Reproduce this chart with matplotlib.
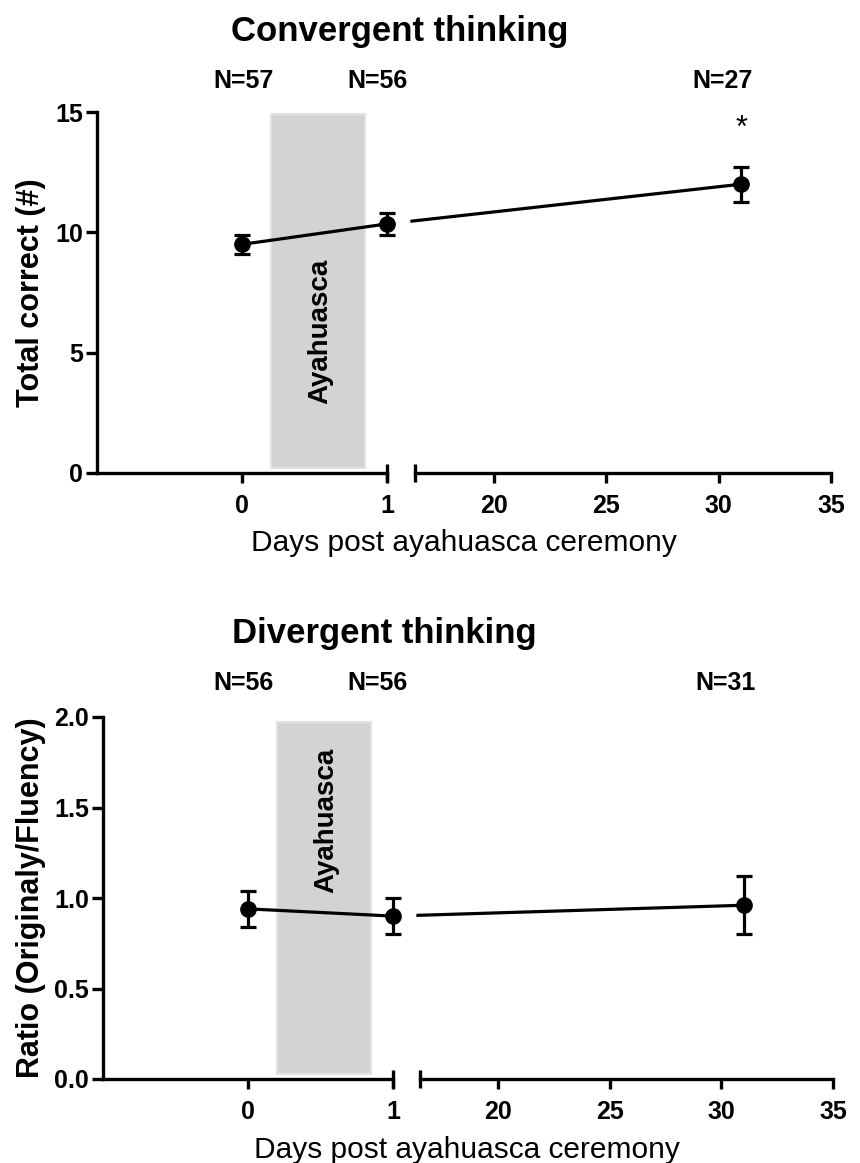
import matplotlib
matplotlib.use('Agg')
import matplotlib.pyplot as plt
import numpy as np

plt.rcParams['font.family'] = ['Liberation Sans', 'DejaVu Sans']

days = [0, 1, 31]

conv_mean = [9.5, 10.35, 12.0]
conv_err = [0.4, 0.45, 0.73]
conv_n = [57, 56, 27]

div_mean = [0.94, 0.90, 0.96]
div_err = [0.10, 0.10, 0.16]
div_n = [56, 56, 31]

left_ticks = [0, 1]
right_ticks = [20, 25, 30, 35]

W, H = 860, 1163


def px_box(x0, x1, y_top, y_bot):
    return [x0 / W, 1 - y_bot / H, (x1 - x0) / W, (y_bot - y_top) / H]


def style_axis(ax, show_y):
    for s in ['top', 'right']:
        ax.spines[s].set_visible(False)
    ax.spines['bottom'].set_linewidth(2.4)
    ax.spines['left'].set_linewidth(2.4)
    ax.spines['left'].set_visible(show_y)
    ax.tick_params(axis='x', length=7, width=2.4, pad=8, labelsize=18)
    ax.tick_params(axis='y', length=8, width=2.4, pad=2, labelsize=18)
    for lab in ax.get_xticklabels() + ax.get_yticklabels():
        lab.set_fontweight('bold')
    if not show_y:
        ax.tick_params(axis='y', left=False, labelleft=False)


def draw_panel(fig, box_l, box_r, ylim, yticks, ytick_labels, means, errs, ns,
               title, title_xy, ylabel, shade_y, ayah_y, n_y, n_offsets, star=None):
    ax_l = fig.add_axes(box_l)
    ax_r = fig.add_axes(box_r)
    ax_l.set_xlim(-1, 1)
    ax_r.set_xlim(16.5, 35)
    for ax in (ax_l, ax_r):
        ax.set_ylim(*ylim)
        ax.set_facecolor('none')
    ax_l.set_xticks(left_ticks)
    ax_r.set_xticks(right_ticks)
    ax_l.set_yticks(yticks)
    ax_l.set_yticklabels(ytick_labels)
    style_axis(ax_l, True)
    style_axis(ax_r, False)

    # ayahuasca shading
    ax_l.fill_between([0.2, 0.85], shade_y[0], shade_y[1], color='#d3d3d3',
                      edgecolor='#e2e2e2', linewidth=1.5, zorder=0)
    ax_l.text(0.54, ayah_y, 'Ayahuasca', rotation=90, ha='center', va='center',
              fontsize=20, fontweight='bold')

    d = np.array(days)
    m = np.array(means)
    e = np.array(errs)
    left = d <= 1
    right = d > 1
    kw = dict(fmt='o', color='black', markersize=11, elinewidth=2.3,
              capsize=6, capthick=2.3, clip_on=False, zorder=3)
    ax_l.errorbar(d[left], m[left], yerr=e[left], **kw)
    ax_r.errorbar(d[right], m[right], yerr=e[right], **kw)
    ax_l.plot(d[left], m[left], color='black', linewidth=2.3, clip_on=False)

    # line across the axis break, straight in screen space
    p1 = ax_l.transData.transform((d[left][-1], m[left][-1]))
    p2 = ax_r.transData.transform((d[right][0], m[right][0]))
    gap = 25 * fig.dpi / 100
    xs = p1[0] + gap
    ys = p1[1] + (p2[1] - p1[1]) * (xs - p1[0]) / (p2[0] - p1[0])
    inv = ax_r.transData.inverted()
    a = inv.transform((xs, ys))
    b = inv.transform(p2)
    ax_r.plot([a[0], b[0]], [a[1], b[1]], color='black', linewidth=2.3, clip_on=False)

    # break caps
    ax_l.plot(1, ylim[0], marker='|', markersize=13, mew=2.4, color='black', clip_on=False)
    ax_r.plot(16.5, ylim[0], marker='|', markersize=13, mew=2.4, color='black', clip_on=False)

    # N labels
    for i, (x, n) in enumerate(zip(days, ns)):
        ax = ax_l if x <= 1 else ax_r
        ax.annotate(f'N={n}', (x, n_y), xytext=(n_offsets[i], 0), textcoords='offset points',
                    ha='center', va='center', fontsize=18, fontweight='bold',
                    annotation_clip=False)

    if star is not None:
        ax_r.text(star[0], star[1], '*', ha='center', va='center', fontsize=22)

    fig.text(title_xy[0] / W, 1 - title_xy[1] / H, title, ha='center', va='center',
             fontsize=25, fontweight='bold')
    fig.text(31 / W, box_l[1] + box_l[3] / 2, ylabel, rotation=90, ha='center',
             va='center', fontsize=22, fontweight='bold')
    return ax_l, ax_r


def main():
    fig = plt.figure(figsize=(W / 100, H / 100), dpi=100)

    draw_panel(fig,
               px_box(97, 387, 112, 473), px_box(415, 831, 112, 473),
               (0, 15), [0, 5, 10, 15], ['0', '5', '10', '15'],
               conv_mean, conv_err, conv_n,
               'Convergent thinking', (400, 32), 'Total correct (#)',
               (0.2, 14.9), 5.9, 16.3, [1, -7, -13], star=(31, 14.3))
    fig.text(464 / W, 1 - 543 / H, 'Days post ayahuasca ceremony', ha='center',
             va='center', fontsize=21.5)

    draw_panel(fig,
               px_box(103, 393, 717, 1079), px_box(420, 833, 717, 1079),
               (0, 2), [0, 0.5, 1, 1.5, 2], ['0.0', '0.5', '1.0', '1.5', '2.0'],
               div_mean, div_err, div_n,
               'Divergent thinking', (384, 633), 'Ratio (Originaly/Fluency)',
               (0.03, 1.97), 1.43, 2.19, [-3, -11, -13])
    fig.text(467 / W, 1 - 1150 / H, 'Days post ayahuasca ceremony', ha='center',
             va='center', fontsize=21.5)

    fig.savefig('out.png', dpi=100)


if __name__ == '__main__':
    main()
